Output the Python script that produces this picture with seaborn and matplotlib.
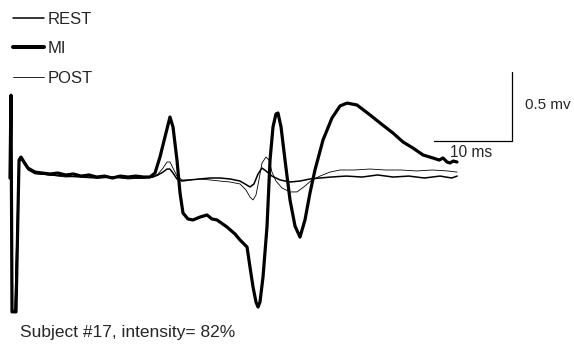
import matplotlib
matplotlib.use("Agg")
import matplotlib.pyplot as plt
from matplotlib.lines import Line2D
import seaborn as sns
import pandas as pd

sns.set_style("white")
plt.rcParams['font.family'] = ['Liberation Sans', 'DejaVu Sans']

# ---- data (time in ms after stimulus, amplitude in mV) ----
mi_t = [-0.13, 0.0, 0.13, 0.64, 1.03, 1.28, 1.67, 2.18, 3.08, 4.0, 5.0, 6.0, 7.0, 8.0, 9.0,
        10.0, 11.0, 12.0, 13.0, 14.0, 15.0, 16.0, 17.0, 17.82, 18.46, 19.1, 19.74, 20.38,
        20.77, 21.28, 21.67, 22.05, 22.69, 23.33, 24.23, 25.13, 25.77, 26.41, 27.69, 28.72,
        29.36, 30.26, 30.64, 31.03, 31.41, 31.67, 31.92, 32.31, 32.82, 33.21, 33.59, 33.97,
        34.23, 34.62, 35.13, 35.77, 36.41, 37.05, 37.69, 38.33, 38.97, 40.0, 41.15, 42.18,
        43.08, 44.36, 46.03, 47.31, 48.97, 50.26, 51.54, 52.82, 54.1, 54.9, 55.38, 55.9,
        56.28, 56.7, 57.18]
mi_v = [0.0, 0.60, -0.97, -0.97, 0.13, 0.152, 0.116, 0.072, 0.043, 0.036, 0.029, 0.036,
        0.022, 0.029, 0.014, 0.022, 0.007, 0.014, 0.0, 0.014, 0.007, 0.014, 0.007, 0.007,
        0.036, 0.152, 0.297, 0.442, 0.37, 0.13, -0.109, -0.254, -0.297, -0.304, -0.283,
        -0.268, -0.297, -0.304, -0.355, -0.406, -0.449, -0.5, -0.645, -0.79, -0.899, -0.935,
        -0.899, -0.717, -0.355, 0.13, 0.37, 0.464, 0.471, 0.37, 0.13, -0.159, -0.348,
        -0.428, -0.304, -0.109, 0.058, 0.275, 0.435, 0.522, 0.543, 0.529, 0.457, 0.399,
        0.326, 0.261, 0.217, 0.167, 0.145, 0.13, 0.145, 0.116, 0.109, 0.123, 0.116]

rest_t = [-0.13, 0.0, 0.13, 0.51, 1.03, 1.28, 1.67, 2.18, 3.08, 5.0, 7.0, 9.0, 11.0, 13.0,
          15.0, 17.0, 18.2, 18.85, 19.49, 20.0, 20.38, 20.77, 21.28, 21.92, 22.95, 24.23,
          25.51, 26.79, 28.08, 29.36, 30.0, 30.64, 31.15, 31.67, 32.18, 32.69, 33.46, 34.49,
          35.77, 37.05, 38.33, 39.62, 41.0, 43.0, 45.0, 47.0, 49.0, 51.0, 53.0, 55.0, 56.5,
          57.2]
rest_v = [0.0, 0.60, -0.97, -0.97, 0.116, 0.145, 0.109, 0.065, 0.036, 0.022, 0.014, 0.007,
          0.0, 0.007, 0.0, 0.0, 0.007, 0.022, 0.043, 0.065, 0.065, 0.036, -0.007, -0.022,
          -0.014, -0.007, 0.0, 0.0, -0.007, -0.022, -0.043, -0.065, -0.043, 0.029, 0.072,
          0.051, 0.014, -0.014, -0.029, -0.022, -0.007, 0.0, 0.007, 0.014, 0.007, 0.022,
          0.007, 0.014, 0.0, 0.014, 0.0, 0.014]

post_t = [-0.13, 0.0, 0.13, 0.51, 1.03, 1.28, 1.67, 2.18, 3.08, 5.0, 7.0, 9.0, 11.0, 13.0,
          15.0, 17.0, 18.2, 18.85, 19.49, 20.0, 20.38, 20.77, 21.28, 21.92, 22.95, 24.23,
          25.51, 26.79, 28.08, 29.36, 30.13, 30.64, 31.03, 31.41, 31.79, 32.18, 32.69, 33.08,
          33.46, 33.97, 34.74, 35.77, 36.67, 37.69, 38.59, 39.62, 40.9, 42.18, 44.0, 46.0,
          48.0, 50.0, 52.0, 54.0, 56.0, 57.2]
post_v = [0.0, 0.587, -0.957, -0.957, 0.109, 0.138, 0.101, 0.058, 0.029, 0.022, 0.007,
          0.014, 0.0, 0.007, -0.007, 0.0, 0.007, 0.029, 0.072, 0.116, 0.116, 0.072, 0.014,
          -0.014, -0.014, -0.007, -0.014, -0.022, -0.029, -0.043, -0.087, -0.138, -0.159,
          -0.123, -0.014, 0.109, 0.152, 0.13, 0.043, -0.022, -0.072, -0.101, -0.101, -0.058,
          -0.014, 0.014, 0.043, 0.058, 0.058, 0.065, 0.058, 0.058, 0.051, 0.058, 0.051, 0.043]

conditions = ["REST", "MI", "POST"]
line_widths = {"REST": 1.1, "MI": 2.3, "POST": 0.6}
scale_mv = 0.5
scale_ms = 10
caption = "Subject #17, intensity= 82%"

# ---- figure ----
fig = plt.figure(figsize=(5.74, 3.44), dpi=100)
ax = fig.add_axes([0, 0, 1, 1])
ax.set_axis_off()

traces = {"MI": (mi_t, mi_v), "REST": (rest_t, rest_v), "POST": (post_t, post_v)}
for cond in ["MI", "REST", "POST"]:
    t, v = traces[cond]
    df = pd.DataFrame({"time": t, "mv": v})
    sns.lineplot(data=df, x="time", y="mv", ax=ax, color="black", sort=False,
                 estimator=None, linewidth=line_widths[cond], solid_joinstyle="round")

ax.set_xlim(-1.41, 72.18)
ax.set_ylim(-1.203, 1.29)

# scale bars
bar_x = 64.23
bar_y = 0.268
ax.plot([bar_x, bar_x], [bar_y, bar_y + scale_mv], color="black", lw=0.9)
ax.plot([bar_x - scale_ms, bar_x], [bar_y, bar_y], color="black", lw=0.9)
ax.text(bar_x + 1.7, bar_y + scale_mv / 2 + 0.01, f"{scale_mv} mv", fontsize=11,
        va="center", ha="left")
ax.text(bar_x - scale_ms + 2.0, bar_y - 0.085, f"{scale_ms} ms", fontsize=11.2,
        va="center", ha="left")

# legend
handles = [Line2D([0], [0], color="black", lw=line_widths[c] + (0.6 if c == "MI" else 0))
           for c in conditions]
leg = ax.legend(handles, conditions, loc="upper left", bbox_to_anchor=(0.011, 0.985),
                frameon=False, fontsize=12, handlelength=1.85, handletextpad=0.25,
                labelspacing=0.87, borderaxespad=0)

fig.text(20 / 574, 1 - 333 / 344, caption, fontsize=12.5, va="center", ha="left")

fig.savefig("out.png", dpi=100)
